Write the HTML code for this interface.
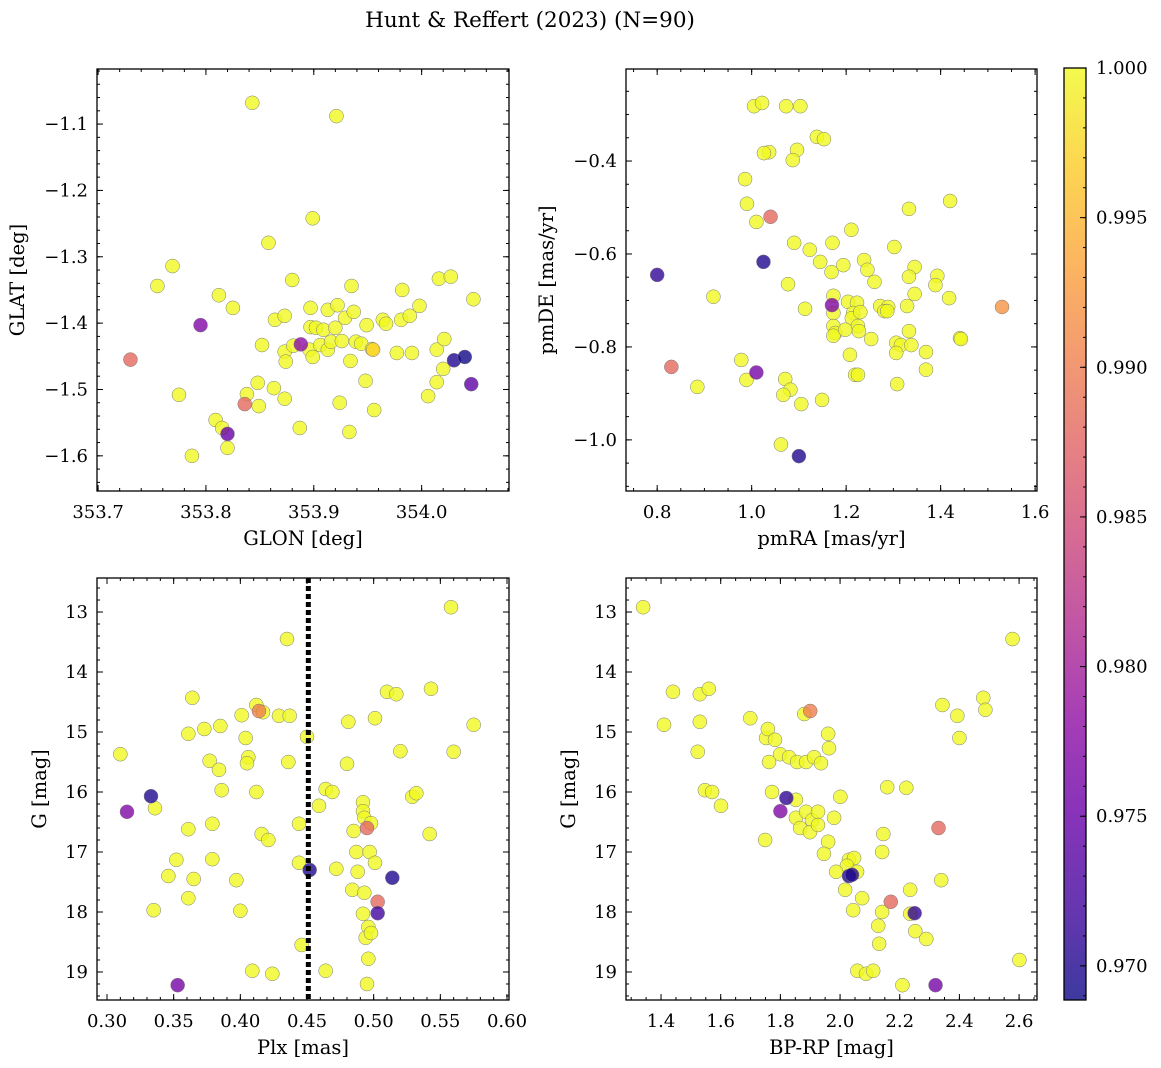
<!DOCTYPE html>
<html><head><meta charset="utf-8">
<style>
html,body{margin:0;padding:0;background:#fff;}
svg{display:block;font-family:"DejaVu Serif","Liberation Serif",serif;}
</style></head>
<body>
<svg id="fig" width="1161" height="1068" viewBox="0 0 1161 1068" xmlns="http://www.w3.org/2000/svg">
<rect width="1161" height="1068" fill="#fff"/>
<text x="530" y="27" font-size="21.5" text-anchor="middle">Hunt &amp; Reffert (2023) (N=90)</text>
</svg>
<script>
// ---- data: panel 1 (GLON / GLAT) ----
const glon = [353.843,353.921,353.899,353.858,353.769,353.755,353.880,353.812,353.825,353.775,353.787,353.809,353.815,353.820,353.838,353.848,353.849,353.852,353.863,353.864,353.873,353.873,353.874,353.873,353.881,353.887,353.896,353.897,353.897,353.899,353.902,353.906,353.909,353.913,353.916,353.913,353.920,353.922,353.924,353.926,353.929,353.933,353.934,353.935,353.937,353.939,353.944,353.948,353.949,353.954,353.956,353.964,353.967,353.977,353.981,353.982,353.989,353.991,353.998,354.006,354.014,354.014,354.016,354.021,354.020,354.027,354.048,
 353.730,353.795,353.836,353.820,353.888,354.030,354.040,354.046,353.955];
const glat = [-1.068,-1.088,-1.242,-1.279,-1.314,-1.344,-1.335,-1.358,-1.377,-1.508,-1.600,-1.546,-1.558,-1.588,-1.507,-1.490,-1.525,-1.433,-1.498,-1.395,-1.389,-1.443,-1.458,-1.514,-1.434,-1.558,-1.440,-1.406,-1.377,-1.451,-1.407,-1.433,-1.410,-1.440,-1.428,-1.380,-1.407,-1.373,-1.520,-1.427,-1.392,-1.564,-1.457,-1.344,-1.383,-1.428,-1.431,-1.487,-1.403,-1.439,-1.531,-1.395,-1.401,-1.445,-1.395,-1.350,-1.389,-1.445,-1.374,-1.510,-1.489,-1.440,-1.333,-1.424,-1.469,-1.330,-1.364,
 -1.455,-1.403,-1.522,-1.567,-1.432,-1.456,-1.451,-1.492,-1.440];
const prob1 = [1,1,1,1,1,1,1,1,1,1,1,1,1,1,1,1,1,1,1,1,1,1,1,1,1,1,1,1,1,1,1,1,1,1,1,1,1,1,1,1,1,1,1,1,1,1,1,1,1,1,1,1,1,1,1,1,1,1,1,1,1,1,1,1,1,1,1,
 0.988,0.977,0.988,0.975,0.978,0.970,0.969,0.974,0.997];
// ---- data: panel 2 (pmRA / pmDE) ----
const pmra = [1.005,1.022,1.073,1.103,1.037,1.026,1.096,1.087,1.138,1.153,0.986,0.990,1.010,1.333,1.420,1.211,1.171,1.090,1.123,1.302,1.145,1.238,1.245,1.169,1.194,1.345,1.393,1.333,1.260,1.077,1.389,0.919,1.173,1.418,1.345,1.204,1.223,1.272,1.289,1.329,1.113,1.173,1.215,1.212,1.230,1.281,1.287,1.173,1.177,1.173,1.225,1.227,1.198,1.333,1.253,1.306,1.316,1.338,1.441,1.443,1.306,1.369,1.208,1.219,1.225,1.369,1.308,0.978,0.989,0.885,1.071,1.082,1.067,1.105,1.149,1.062,
 0.800,0.830,1.010,1.025,1.040,1.100,1.170,1.530];
const pmde = [-0.282,-0.275,-0.282,-0.282,-0.381,-0.383,-0.376,-0.398,-0.348,-0.353,-0.439,-0.492,-0.531,-0.503,-0.486,-0.548,-0.576,-0.576,-0.591,-0.585,-0.617,-0.613,-0.634,-0.639,-0.624,-0.628,-0.647,-0.649,-0.660,-0.665,-0.667,-0.692,-0.690,-0.695,-0.686,-0.703,-0.705,-0.712,-0.714,-0.712,-0.718,-0.727,-0.727,-0.738,-0.725,-0.723,-0.723,-0.755,-0.770,-0.776,-0.755,-0.766,-0.763,-0.766,-0.783,-0.791,-0.796,-0.796,-0.781,-0.783,-0.813,-0.811,-0.817,-0.860,-0.860,-0.849,-0.880,-0.828,-0.871,-0.886,-0.869,-0.892,-0.903,-0.923,-0.914,-1.010,
 -0.645,-0.843,-0.855,-0.617,-0.520,-1.035,-0.710,-0.714];
const prob2 = [1,1,1,1,1,1,1,1,1,1,1,1,1,1,1,1,1,1,1,1,1,1,1,1,1,1,1,1,1,1,1,1,1,1,1,1,1,1,1,1,1,1,1,1,1,1,1,1,1,1,1,1,1,1,1,1,1,1,1,1,1,1,1,1,1,1,1,1,1,1,1,1,1,1,1,1,
 0.971,0.988,0.976,0.970,0.988,0.970,0.977,0.992];
// ---- data: panel 3 (Plx / G) ----
const plx = [0.558,0.435,0.364,0.543,0.510,0.517,0.575,0.412,0.417,0.401,0.429,0.437,0.501,0.373,0.385,0.361,0.450,0.404,0.481,0.310,0.560,0.520,0.406,0.405,0.377,0.436,0.480,0.384,0.464,0.469,0.386,0.412,0.529,0.532,0.492,0.459,0.336,0.492,0.493,0.498,0.444,0.379,0.361,0.485,0.416,0.542,0.421,0.487,0.497,0.352,0.379,0.444,0.501,0.472,0.488,0.346,0.365,0.397,0.484,0.493,0.361,0.335,0.400,0.492,0.496,0.494,0.498,0.446,0.496,0.409,0.424,0.464,0.495,
 0.315,0.333,0.353,0.452,0.503,0.503,0.514,0.495,0.414];
const gmag3 = [12.92,13.45,14.43,14.28,14.33,14.37,14.88,14.55,14.67,14.72,14.73,14.73,14.77,14.95,14.90,15.03,15.08,15.10,14.83,15.37,15.33,15.32,15.42,15.52,15.48,15.50,15.53,15.63,15.95,16.00,15.97,16.00,16.08,16.02,16.17,16.23,16.27,16.32,16.43,16.52,16.53,16.53,16.62,16.65,16.70,16.70,16.80,17.00,17.00,17.13,17.12,17.18,17.18,17.28,17.33,17.40,17.45,17.47,17.63,17.68,17.77,17.97,17.98,18.03,18.25,18.43,18.35,18.55,18.78,18.98,19.03,18.98,19.20,
 16.33,16.07,19.22,17.30,17.83,18.02,17.43,16.60,14.65];
const prob3 = [1,1,1,1,1,1,1,1,1,1,1,1,1,1,1,1,1,1,1,1,1,1,1,1,1,1,1,1,1,1,1,1,1,1,1,1,1,1,1,1,1,1,1,1,1,1,1,1,1,1,1,1,1,1,1,1,1,1,1,1,1,1,1,1,1,1,1,1,1,1,1,1,1,
 0.977,0.970,0.976,0.970,0.988,0.972,0.970,0.988,0.990];
// ---- data: panel 4 (BP-RP / G) ----
const bprp = [1.340,2.578,1.440,1.530,1.560,2.480,2.487,2.343,2.393,1.410,1.530,1.523,1.699,1.880,1.752,1.758,1.782,1.799,1.762,1.829,1.856,1.886,1.913,1.936,1.960,1.963,2.400,1.547,1.571,1.601,1.772,2.158,2.222,2.001,1.852,1.852,1.886,1.906,1.926,1.866,1.899,1.926,1.980,1.960,1.946,1.749,2.145,2.141,2.030,2.047,2.023,2.057,1.987,2.017,2.235,2.339,2.074,2.044,2.141,2.235,2.128,2.252,2.289,2.131,2.058,2.087,2.111,2.209,2.601,
 1.800,1.900,2.030,2.040,2.170,2.250,2.330,2.320,1.820];
const gmag4 = [12.92,13.45,14.33,14.37,14.28,14.43,14.63,14.55,14.73,14.88,14.83,15.33,14.77,14.70,15.10,14.95,15.13,15.37,15.50,15.42,15.50,15.50,15.42,15.52,15.03,15.27,15.10,15.97,16.00,16.23,16.00,15.92,15.93,16.08,16.13,16.43,16.33,16.47,16.33,16.60,16.67,16.55,16.43,16.83,17.03,16.80,16.70,17.00,17.13,17.10,17.23,17.33,17.33,17.63,17.63,17.47,17.77,17.97,18.00,18.03,18.23,18.32,18.45,18.53,18.98,19.03,18.98,19.22,18.80,
 16.32,14.65,17.40,17.38,17.83,18.02,16.60,19.22,16.10];
const prob4 = [1,1,1,1,1,1,1,1,1,1,1,1,1,1,1,1,1,1,1,1,1,1,1,1,1,1,1,1,1,1,1,1,1,1,1,1,1,1,1,1,1,1,1,1,1,1,1,1,1,1,1,1,1,1,1,1,1,1,1,1,1,1,1,1,1,1,1,1,1,
 0.977,0.990,0.970,0.970,0.988,0.971,0.988,0.976,0.971];
const plxCut = 0.451;
const cbTicks = [0.970,0.975,0.980,0.985,0.990,0.995,1.000];
const cbMin = 0.96886, cbMax = 1.0;

const NS = 'http://www.w3.org/2000/svg';
const svg = document.getElementById('fig');
function el(tag, attrs, parent){
  const e = document.createElementNS(NS, tag);
  for (const k in attrs) e.setAttribute(k, attrs[k]);
  (parent||svg).appendChild(e); return e;
}
const plasma = ['#0d0887','#41049d','#6a00a8','#8f0da4','#b12a90','#cc4778','#e16462','#f2844b','#fca636','#fcce25','#f0f921'];
function hex(h){return [1,3,5].map(i=>parseInt(h.substr(i,2),16));}
function cmap(v){
  let t=(v-cbMin)/(cbMax-cbMin); t=Math.max(0,Math.min(1,t));
  const p=t*10, i=Math.min(9,Math.floor(p)), f=p-i;
  const a=hex(plasma[i]), b=hex(plasma[i+1]);
  return 'rgb('+a.map((c,k)=>Math.round(c+(b[k]-c)*f)).join(',')+')';
}
function fmtMinus(s){return s.replace('-','\u2212');}

function panel(cfg){
  const {x0,y0,w,h,xmin,xmax,ymin,ymax,inv,xt,yt,xdec,ydec,xmin_s,ymin_s,xlab,ylab,ylabX,name} = cfg;
  const sx = v => x0 + (v-xmin)/(xmax-xmin)*w;
  const sy = inv ? (v => y0 + (v-ymin)/(ymax-ymin)*h) : (v => y0 + h - (v-ymin)/(ymax-ymin)*h);
  const g = el('g',{});
  
  
  const pg = el('g',{},g);
  cfg.xs.forEach((xv,i)=>{
    const c = el('circle',{cx:sx(xv),cy:sy(cfg.ys[i]),r:7,fill:cmap(cfg.ps[i]),'fill-opacity':0.8,stroke:'#7a7a7a','stroke-width':0.5},pg);
    
    
  });
  if (cfg.vline!==undefined){
    const l = el('line',{x1:sx(cfg.vline),x2:sx(cfg.vline),y1:y0,y2:y0+h,stroke:'#000','stroke-width':5,'stroke-dasharray':'5,3'},g);
    
    
  }
  const tg = el('g',{stroke:'#000','stroke-width':1},g);
  for (let v=Math.ceil(xmin/xmin_s-1e-6)*xmin_s; v<=xmax+1e-9; v+=xmin_s){
    const X=sx(v); el('line',{x1:X,x2:X,y1:y0,y2:y0+3},tg); el('line',{x1:X,x2:X,y1:y0+h,y2:y0+h-3},tg);
  }
  const ylo=Math.min(ymin,ymax), yhi=Math.max(ymin,ymax);
  for (let v=Math.ceil(ylo/ymin_s-1e-6)*ymin_s; v<=yhi+1e-9; v+=ymin_s){
    const Y=sy(v); el('line',{x1:x0,x2:x0+3,y1:Y,y2:Y},tg); el('line',{x1:x0+w,x2:x0+w-3,y1:Y,y2:Y},tg);
  }
  xt.forEach(v=>{
    const X=sx(v); el('line',{x1:X,x2:X,y1:y0,y2:y0+6},tg); el('line',{x1:X,x2:X,y1:y0+h,y2:y0+h-6},tg);
    const t=el('text',{x:X,y:y0+h+27,'font-size':18,'text-anchor':'middle',stroke:'none'},g);
    t.textContent=fmtMinus(v.toFixed(xdec));
    
    
  });
  yt.forEach(v=>{
    const Y=sy(v); el('line',{x1:x0,x2:x0+6,y1:Y,y2:Y},tg); el('line',{x1:x0+w,x2:x0+w-6,y1:Y,y2:Y},tg);
    const t=el('text',{x:x0-9,y:Y+6,'font-size':18,'text-anchor':'end'},g);
    t.textContent=fmtMinus(v.toFixed(ydec));
    
    
  });
  const fr = el('rect',{x:x0,y:y0,width:w,height:h,fill:'none',stroke:'#000','stroke-width':1.3},g);
  
  
  const xl=el('text',{x:x0+w/2,y:y0+h+54,'font-size':19.5,'text-anchor':'middle'},g);
  xl.textContent=xlab;
  
  
  const yl=el('text',{x:ylabX,y:y0+h/2,'font-size':19.5,'text-anchor':'middle',transform:'rotate(-90 '+ylabX+' '+(y0+h/2)+')'},g);
  yl.textContent=ylab;
  
  
}

panel({name:'glon-glat-panel',x0:97,y0:69,w:412,h:422,xmin:353.699,xmax:354.081,ymin:-1.653,ymax:-1.017,inv:false,
  xt:[353.7,353.8,353.9,354.0],yt:[-1.1,-1.2,-1.3,-1.4,-1.5,-1.6],xdec:1,ydec:1,xmin_s:0.02,ymin_s:0.02,
  xlab:'GLON [deg]',ylab:'GLAT [deg]',ylabX:24,xs:glon,ys:glat,ps:prob1});
panel({name:'proper-motion-panel',x0:626,y0:69,w:411,h:422,xmin:0.734,xmax:1.604,ymin:-1.110,ymax:-0.202,inv:false,
  xt:[0.8,1.0,1.2,1.4,1.6],yt:[-0.4,-0.6,-0.8,-1.0],xdec:1,ydec:1,xmin_s:0.05,ymin_s:0.05,
  xlab:'pmRA [mas/yr]',ylab:'pmDE [mas/yr]',ylabX:553,xs:pmra,ys:pmde,ps:prob2});
panel({name:'parallax-mag-panel',x0:97,y0:578,w:412,h:422,xmin:0.2925,xmax:0.6015,ymin:12.433,ymax:19.467,inv:true,
  xt:[0.30,0.35,0.40,0.45,0.50,0.55,0.60],yt:[13,14,15,16,17,18,19],xdec:2,ydec:0,xmin_s:0.01,ymin_s:0.2,
  xlab:'Plx [mas]',ylab:'G [mag]',ylabX:46,xs:plx,ys:gmag3,ps:prob3,vline:plxCut});
panel({name:'cmd-panel',x0:626,y0:578,w:411,h:422,xmin:1.2826,xmax:2.660,ymin:12.433,ymax:19.467,inv:true,
  xt:[1.4,1.6,1.8,2.0,2.2,2.4,2.6],yt:[13,14,15,16,17,18,19],xdec:1,ydec:0,xmin_s:0.05,ymin_s:0.2,
  xlab:'BP-RP [mag]',ylab:'G [mag]',ylabX:575,xs:bprp,ys:gmag4,ps:prob4});

(function(){
  const x0=1064,y0=68,w=22,h=932;
  const g=el('g',{});
  
  
  const defs=el('defs',{},g);
  const lg=el('linearGradient',{id:'cbg',x1:0,y1:1,x2:0,y2:0},defs);
  for(let i=0;i<=20;i++){const v=cbMin+(cbMax-cbMin)*i/20; el('stop',{offset:(i/20),'stop-color':cmap(v),'stop-opacity':0.8},lg);}
  el('rect',{x:x0,y:y0,width:w,height:h,fill:'url(#cbg)'},g);
  const sy=v=>y0+h-(v-cbMin)/(cbMax-cbMin)*h;
  for(let v=0.969;v<=1.00001;v+=0.001){const Y=sy(v); el('line',{x1:x0+w,x2:x0+w-3,y1:Y,y2:Y,stroke:'#000'},g);}
  cbTicks.forEach(v=>{const Y=sy(v); el('line',{x1:x0+w,x2:x0+w-6,y1:Y,y2:Y,stroke:'#000'},g);
    const t=el('text',{x:x0+w+10,y:Y+6,'font-size':18},g); t.textContent=v.toFixed(3);
    
    });
  el('rect',{x:x0,y:y0,width:w,height:h,fill:'none',stroke:'#000','stroke-width':1.3},g);
})();
</script>
</body></html>
